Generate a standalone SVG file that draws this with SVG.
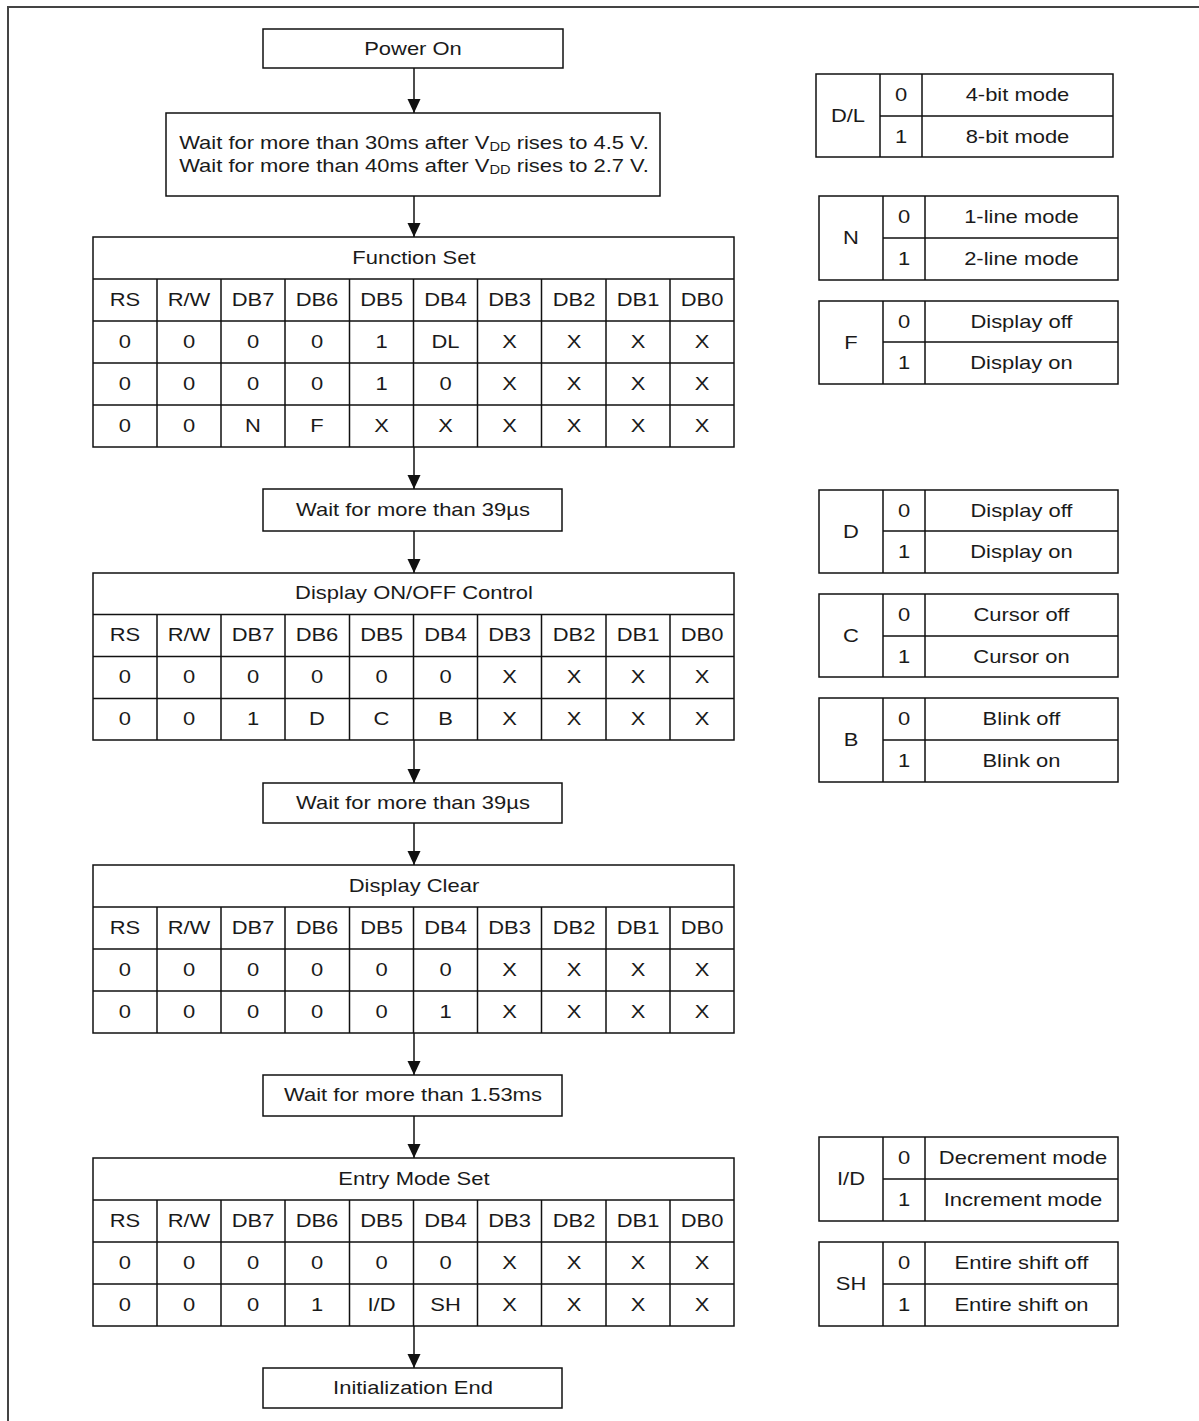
<svg xmlns="http://www.w3.org/2000/svg" width="1199" height="1421" viewBox="0 0 1199 1421">
<style>
.t{font-family:"Liberation Sans",Arial,sans-serif;font-size:18px;fill:#1a1a1a;text-anchor:middle;transform-box:fill-box;transform-origin:center;transform:scaleX(1.22)}
.b{fill:#fff;stroke:#111;stroke-width:1.5}
.l{stroke:#111;stroke-width:1.5;fill:none}
.c{stroke:#111;stroke-width:1.5;fill:none;marker-end:url(#ah)}
.f{stroke:#444;stroke-width:2;fill:none}
</style>
<defs>
<marker id="ah" markerUnits="userSpaceOnUse" markerWidth="14" markerHeight="14" refX="14" refY="6.5" orient="auto">
<path d="M0,0 L14,6.5 L0,13 z" fill="#111"/>
</marker>
</defs>
<rect width="1199" height="1421" fill="#fff"/>
<path class="f" d="M8,1421 V7 H1199"/>

<g id="connectors">
<line class="c" x1="414" y1="68" x2="414" y2="113"/>
<line class="c" x1="414" y1="196" x2="414" y2="237"/>
<line class="c" x1="414" y1="447" x2="414" y2="489"/>
<line class="c" x1="414" y1="531" x2="414" y2="573"/>
<line class="c" x1="414" y1="740" x2="414" y2="783"/>
<line class="c" x1="414" y1="823" x2="414" y2="865"/>
<line class="c" x1="414" y1="1033" x2="414" y2="1075"/>
<line class="c" x1="414" y1="1116" x2="414" y2="1158"/>
<line class="c" x1="414" y1="1326" x2="414" y2="1368"/>
</g>

<g id="power-on">
<rect class="b" x="263" y="29" width="300" height="39"/>
<text class="t" x="413" y="55">Power On</text>
</g>

<g id="wait-power">
<rect class="b" x="166" y="113" width="494" height="83"/>
<text class="t" x="414" y="149">Wait for more than 30ms after V<tspan font-size="12" dy="2">DD</tspan><tspan dy="-2"> rises to 4.5 V.</tspan></text>
<text class="t" x="414" y="172">Wait for more than 40ms after V<tspan font-size="12" dy="2">DD</tspan><tspan dy="-2"> rises to 2.7 V.</tspan></text>
</g>

<g id="function-set">
<rect class="b" x="93" y="237" width="641" height="210"/>
<path class="l" d="M93,279 H734 M93,321 H734 M93,363 H734 M93,405 H734 M157,279 V447 M221,279 V447 M285,279 V447 M349.5,279 V447 M413.5,279 V447 M477.5,279 V447 M541.5,279 V447 M606,279 V447 M670,279 V447"/>
<text class="t" x="414" y="264.4">Function Set</text>
<text class="t" x="125" y="306.4">RS</text><text class="t" x="189" y="306.4">R/W</text><text class="t" x="253" y="306.4">DB7</text><text class="t" x="317" y="306.4">DB6</text><text class="t" x="381.5" y="306.4">DB5</text><text class="t" x="445.5" y="306.4">DB4</text><text class="t" x="509.5" y="306.4">DB3</text><text class="t" x="574" y="306.4">DB2</text><text class="t" x="638" y="306.4">DB1</text><text class="t" x="702" y="306.4">DB0</text>
<text class="t" x="125" y="348.4">0</text><text class="t" x="189" y="348.4">0</text><text class="t" x="253" y="348.4">0</text><text class="t" x="317" y="348.4">0</text><text class="t" x="381.5" y="348.4">1</text><text class="t" x="445.5" y="348.4">DL</text><text class="t" x="509.5" y="348.4">X</text><text class="t" x="574" y="348.4">X</text><text class="t" x="638" y="348.4">X</text><text class="t" x="702" y="348.4">X</text>
<text class="t" x="125" y="390.4">0</text><text class="t" x="189" y="390.4">0</text><text class="t" x="253" y="390.4">0</text><text class="t" x="317" y="390.4">0</text><text class="t" x="381.5" y="390.4">1</text><text class="t" x="445.5" y="390.4">0</text><text class="t" x="509.5" y="390.4">X</text><text class="t" x="574" y="390.4">X</text><text class="t" x="638" y="390.4">X</text><text class="t" x="702" y="390.4">X</text>
<text class="t" x="125" y="432.4">0</text><text class="t" x="189" y="432.4">0</text><text class="t" x="253" y="432.4">N</text><text class="t" x="317" y="432.4">F</text><text class="t" x="381.5" y="432.4">X</text><text class="t" x="445.5" y="432.4">X</text><text class="t" x="509.5" y="432.4">X</text><text class="t" x="574" y="432.4">X</text><text class="t" x="638" y="432.4">X</text><text class="t" x="702" y="432.4">X</text>
</g>

<g id="wait-39-1">
<rect class="b" x="263" y="489" width="299" height="42"/>
<text class="t" x="413" y="516.4">Wait for more than 39µs</text>
</g>

<g id="display-onoff">
<rect class="b" x="93" y="573" width="641" height="167"/>
<path class="l" d="M93,614.5 H734 M93,656.5 H734 M93,698.5 H734 M157,614.5 V740 M221,614.5 V740 M285,614.5 V740 M349.5,614.5 V740 M413.5,614.5 V740 M477.5,614.5 V740 M541.5,614.5 V740 M606,614.5 V740 M670,614.5 V740"/>
<text class="t" x="414" y="599.2">Display ON/OFF Control</text>
<text class="t" x="125" y="641.2">RS</text><text class="t" x="189" y="641.2">R/W</text><text class="t" x="253" y="641.2">DB7</text><text class="t" x="317" y="641.2">DB6</text><text class="t" x="381.5" y="641.2">DB5</text><text class="t" x="445.5" y="641.2">DB4</text><text class="t" x="509.5" y="641.2">DB3</text><text class="t" x="574" y="641.2">DB2</text><text class="t" x="638" y="641.2">DB1</text><text class="t" x="702" y="641.2">DB0</text>
<text class="t" x="125" y="683.2">0</text><text class="t" x="189" y="683.2">0</text><text class="t" x="253" y="683.2">0</text><text class="t" x="317" y="683.2">0</text><text class="t" x="381.5" y="683.2">0</text><text class="t" x="445.5" y="683.2">0</text><text class="t" x="509.5" y="683.2">X</text><text class="t" x="574" y="683.2">X</text><text class="t" x="638" y="683.2">X</text><text class="t" x="702" y="683.2">X</text>
<text class="t" x="125" y="725.2">0</text><text class="t" x="189" y="725.2">0</text><text class="t" x="253" y="725.2">1</text><text class="t" x="317" y="725.2">D</text><text class="t" x="381.5" y="725.2">C</text><text class="t" x="445.5" y="725.2">B</text><text class="t" x="509.5" y="725.2">X</text><text class="t" x="574" y="725.2">X</text><text class="t" x="638" y="725.2">X</text><text class="t" x="702" y="725.2">X</text>
</g>

<g id="wait-39-2">
<rect class="b" x="263" y="783" width="299" height="40"/>
<text class="t" x="413" y="809.4">Wait for more than 39µs</text>
</g>

<g id="display-clear">
<rect class="b" x="93" y="865" width="641" height="168"/>
<path class="l" d="M93,907 H734 M93,949 H734 M93,991 H734 M157,907 V1033 M221,907 V1033 M285,907 V1033 M349.5,907 V1033 M413.5,907 V1033 M477.5,907 V1033 M541.5,907 V1033 M606,907 V1033 M670,907 V1033"/>
<text class="t" x="414" y="892.4">Display Clear</text>
<text class="t" x="125" y="934.4">RS</text><text class="t" x="189" y="934.4">R/W</text><text class="t" x="253" y="934.4">DB7</text><text class="t" x="317" y="934.4">DB6</text><text class="t" x="381.5" y="934.4">DB5</text><text class="t" x="445.5" y="934.4">DB4</text><text class="t" x="509.5" y="934.4">DB3</text><text class="t" x="574" y="934.4">DB2</text><text class="t" x="638" y="934.4">DB1</text><text class="t" x="702" y="934.4">DB0</text>
<text class="t" x="125" y="976.4">0</text><text class="t" x="189" y="976.4">0</text><text class="t" x="253" y="976.4">0</text><text class="t" x="317" y="976.4">0</text><text class="t" x="381.5" y="976.4">0</text><text class="t" x="445.5" y="976.4">0</text><text class="t" x="509.5" y="976.4">X</text><text class="t" x="574" y="976.4">X</text><text class="t" x="638" y="976.4">X</text><text class="t" x="702" y="976.4">X</text>
<text class="t" x="125" y="1018.4">0</text><text class="t" x="189" y="1018.4">0</text><text class="t" x="253" y="1018.4">0</text><text class="t" x="317" y="1018.4">0</text><text class="t" x="381.5" y="1018.4">0</text><text class="t" x="445.5" y="1018.4">1</text><text class="t" x="509.5" y="1018.4">X</text><text class="t" x="574" y="1018.4">X</text><text class="t" x="638" y="1018.4">X</text><text class="t" x="702" y="1018.4">X</text>
</g>

<g id="wait-153">
<rect class="b" x="263" y="1075" width="299" height="41"/>
<text class="t" x="413" y="1101.4">Wait for more than 1.53ms</text>
</g>

<g id="entry-mode">
<rect class="b" x="93" y="1158" width="641" height="168"/>
<path class="l" d="M93,1200 H734 M93,1242 H734 M93,1284 H734 M157,1200 V1326 M221,1200 V1326 M285,1200 V1326 M349.5,1200 V1326 M413.5,1200 V1326 M477.5,1200 V1326 M541.5,1200 V1326 M606,1200 V1326 M670,1200 V1326"/>
<text class="t" x="414" y="1185.4">Entry Mode Set</text>
<text class="t" x="125" y="1227.4">RS</text><text class="t" x="189" y="1227.4">R/W</text><text class="t" x="253" y="1227.4">DB7</text><text class="t" x="317" y="1227.4">DB6</text><text class="t" x="381.5" y="1227.4">DB5</text><text class="t" x="445.5" y="1227.4">DB4</text><text class="t" x="509.5" y="1227.4">DB3</text><text class="t" x="574" y="1227.4">DB2</text><text class="t" x="638" y="1227.4">DB1</text><text class="t" x="702" y="1227.4">DB0</text>
<text class="t" x="125" y="1269.4">0</text><text class="t" x="189" y="1269.4">0</text><text class="t" x="253" y="1269.4">0</text><text class="t" x="317" y="1269.4">0</text><text class="t" x="381.5" y="1269.4">0</text><text class="t" x="445.5" y="1269.4">0</text><text class="t" x="509.5" y="1269.4">X</text><text class="t" x="574" y="1269.4">X</text><text class="t" x="638" y="1269.4">X</text><text class="t" x="702" y="1269.4">X</text>
<text class="t" x="125" y="1311.4">0</text><text class="t" x="189" y="1311.4">0</text><text class="t" x="253" y="1311.4">0</text><text class="t" x="317" y="1311.4">1</text><text class="t" x="381.5" y="1311.4">I/D</text><text class="t" x="445.5" y="1311.4">SH</text><text class="t" x="509.5" y="1311.4">X</text><text class="t" x="574" y="1311.4">X</text><text class="t" x="638" y="1311.4">X</text><text class="t" x="702" y="1311.4">X</text>
</g>

<g id="init-end">
<rect class="b" x="263" y="1368" width="299" height="40"/>
<text class="t" x="413" y="1394.4">Initialization End</text>
</g>

<g id="legend-dl">
<rect class="b" x="816" y="74" width="297" height="83"/>
<path class="l" d="M880,74 V157 M922,74 V157 M880,116 H1113"/>
<text class="t" x="848" y="121.9">D/L</text>
<text class="t" x="901" y="101.4">0</text><text class="t" x="901" y="142.9">1</text>
<text class="t" x="1017.5" y="101.4">4-bit mode</text><text class="t" x="1017.5" y="142.9">8-bit mode</text>
</g>

<g id="legend-n">
<rect class="b" x="819" y="196" width="299" height="84"/>
<path class="l" d="M883,196 V280 M925,196 V280 M883,238 H1118"/>
<text class="t" x="851" y="244.4">N</text>
<text class="t" x="904" y="223.4">0</text><text class="t" x="904" y="265.4">1</text>
<text class="t" x="1021.5" y="223.4">1-line mode</text><text class="t" x="1021.5" y="265.4">2-line mode</text>
</g>

<g id="legend-f">
<rect class="b" x="819" y="301" width="299" height="83"/>
<path class="l" d="M883,301 V384 M925,301 V384 M883,342 H1118"/>
<text class="t" x="851" y="348.9">F</text>
<text class="t" x="904" y="327.9">0</text><text class="t" x="904" y="369.4">1</text>
<text class="t" x="1021.5" y="327.9">Display off</text><text class="t" x="1021.5" y="369.4">Display on</text>
</g>

<g id="legend-d">
<rect class="b" x="819" y="490" width="299" height="83"/>
<path class="l" d="M883,490 V573 M925,490 V573 M883,531 H1118"/>
<text class="t" x="851" y="537.9">D</text>
<text class="t" x="904" y="516.9">0</text><text class="t" x="904" y="558.4">1</text>
<text class="t" x="1021.5" y="516.9">Display off</text><text class="t" x="1021.5" y="558.4">Display on</text>
</g>

<g id="legend-c">
<rect class="b" x="819" y="594" width="299" height="83"/>
<path class="l" d="M883,594 V677 M925,594 V677 M883,636 H1118"/>
<text class="t" x="851" y="641.9">C</text>
<text class="t" x="904" y="621.4">0</text><text class="t" x="904" y="662.9">1</text>
<text class="t" x="1021.5" y="621.4">Cursor off</text><text class="t" x="1021.5" y="662.9">Cursor on</text>
</g>

<g id="legend-b">
<rect class="b" x="819" y="698" width="299" height="84"/>
<path class="l" d="M883,698 V782 M925,698 V782 M883,740 H1118"/>
<text class="t" x="851" y="746.4">B</text>
<text class="t" x="904" y="725.4">0</text><text class="t" x="904" y="767.4">1</text>
<text class="t" x="1021.5" y="725.4">Blink off</text><text class="t" x="1021.5" y="767.4">Blink on</text>
</g>

<g id="legend-id">
<rect class="b" x="819" y="1137" width="299" height="84"/>
<path class="l" d="M883,1137 V1221 M925,1137 V1221 M883,1179 H1118"/>
<text class="t" x="851" y="1185.4">I/D</text>
<text class="t" x="904" y="1164.4">0</text><text class="t" x="904" y="1206.4">1</text>
<text class="t" x="1023" y="1164.4">Decrement mode</text><text class="t" x="1023" y="1206.4">Increment mode</text>
</g>

<g id="legend-sh">
<rect class="b" x="819" y="1242" width="299" height="84"/>
<path class="l" d="M883,1242 V1326 M925,1242 V1326 M883,1284 H1118"/>
<text class="t" x="851" y="1290.4">SH</text>
<text class="t" x="904" y="1269.4">0</text><text class="t" x="904" y="1311.4">1</text>
<text class="t" x="1021.5" y="1269.4">Entire shift off</text><text class="t" x="1021.5" y="1311.4">Entire shift on</text>
</g>
</svg>
